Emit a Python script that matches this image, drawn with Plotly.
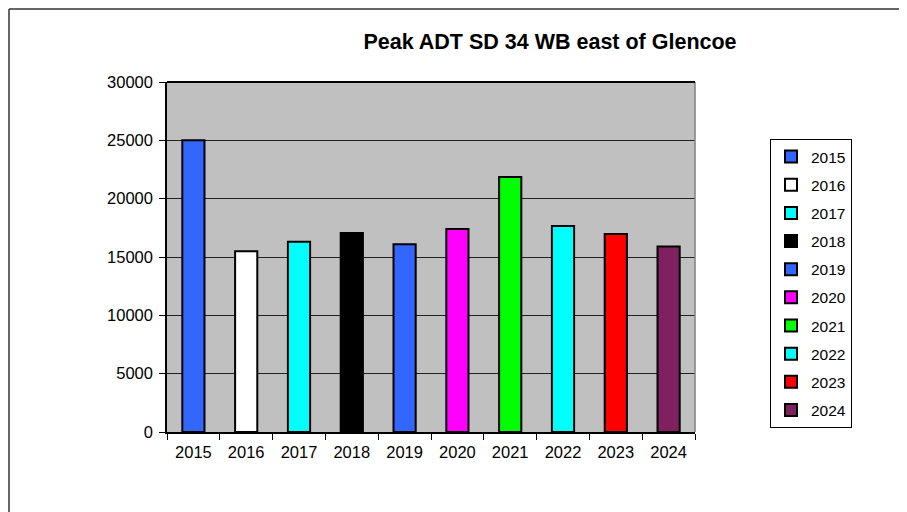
import plotly.graph_objects as go

years = ["2015", "2016", "2017", "2018", "2019", "2020", "2021", "2022", "2023", "2024"]
peak_adt = [25000, 15500, 16300, 17050, 16100, 17400, 21850, 17650, 16970, 15900]
colors = ["#3366FF", "#FFFFFF", "#00FFFF", "#000000", "#3366FF",
          "#FF00FF", "#00FF00", "#00FFFF", "#FF0000", "#7F2060"]
y_ticks = [0, 5000, 10000, 15000, 20000, 25000, 30000]

OFF = 8  # page body offset
W, H = 907 - OFF, 512 - OFF
L, R, T, B = 167 - OFF, 695 - OFF, 82 - OFF, 432 - OFF
FONT = "Arial, 'Liberation Sans', sans-serif"

def px(x):
    return (x - OFF - L) / (R - L)

def py(y):
    return (B - (y - OFF)) / (B - T)

fig = go.Figure()
for yr, val, col in zip(years, peak_adt, colors):
    fig.add_trace(go.Bar(
        x=[yr], y=[val], name=yr, width=0.42,
        marker=dict(color=col, line=dict(color="#000000", width=2)),
        legendgroup=yr,
    ))

shapes = [
    dict(type="line", xref="paper", yref="paper", x0=1, x1=1, y0=0, y1=1,
         line=dict(color="#808080", width=1.5)),
    dict(type="line", xref="paper", yref="paper", x0=px(9), x1=px(912), y0=py(9), y1=py(9),
         line=dict(color="#333333", width=1.5)),
    dict(type="line", xref="paper", yref="paper", x0=px(9), x1=px(9), y0=py(9), y1=py(520),
         line=dict(color="#333333", width=1.5)),
    dict(type="line", xref="paper", yref="paper", x0=0, x1=1, y0=1, y1=1,
         line=dict(color="#000000", width=2)),
]

fig.update_layout(
    width=W, height=H,
    margin=dict(l=L, r=W - R, t=T, b=H - B, autoexpand=False),
    paper_bgcolor="#FFFFFF",
    plot_bgcolor="#C0C0C0",
    barmode="overlay",
    font=dict(family=FONT, size=16, color="#000000"),
    title=dict(text="<b>Peak ADT SD 34 WB east of Glencoe</b>",
               x=(550 - OFF) / W, xanchor="center", xref="container",
               y=1 - (41 - OFF) / H, yanchor="middle", yref="container",
               font=dict(family=FONT, size=21.5, color="#000000")),
    xaxis=dict(type="category", categoryorder="array", categoryarray=years,
               showline=True, linecolor="#000000", linewidth=1.5, mirror=False,
               ticks="outside", ticklen=6, tickcolor="#000000", tickson="boundaries",
               showgrid=False, tickfont=dict(size=16.5), ticklabelstandoff=4),
    yaxis=dict(range=[0, 30000], tickvals=y_ticks, ticktext=[str(v) for v in y_ticks],
               showline=True, linecolor="#000000", linewidth=1.5,
               ticks="outside", ticklen=6, tickcolor="#000000",
               showgrid=True, gridcolor="#222222", gridwidth=1,
               zeroline=False, tickfont=dict(size=16.5), ticklabelstandoff=3),
    legend=dict(x=px(770), xanchor="left", y=py(139), yanchor="top",
                bordercolor="#000000", borderwidth=1, bgcolor="#FFFFFF",
                font=dict(size=15.5), tracegroupgap=5, itemwidth=30,
                traceorder="grouped"),
    shapes=shapes,
)

fig.write_html("out.html")
